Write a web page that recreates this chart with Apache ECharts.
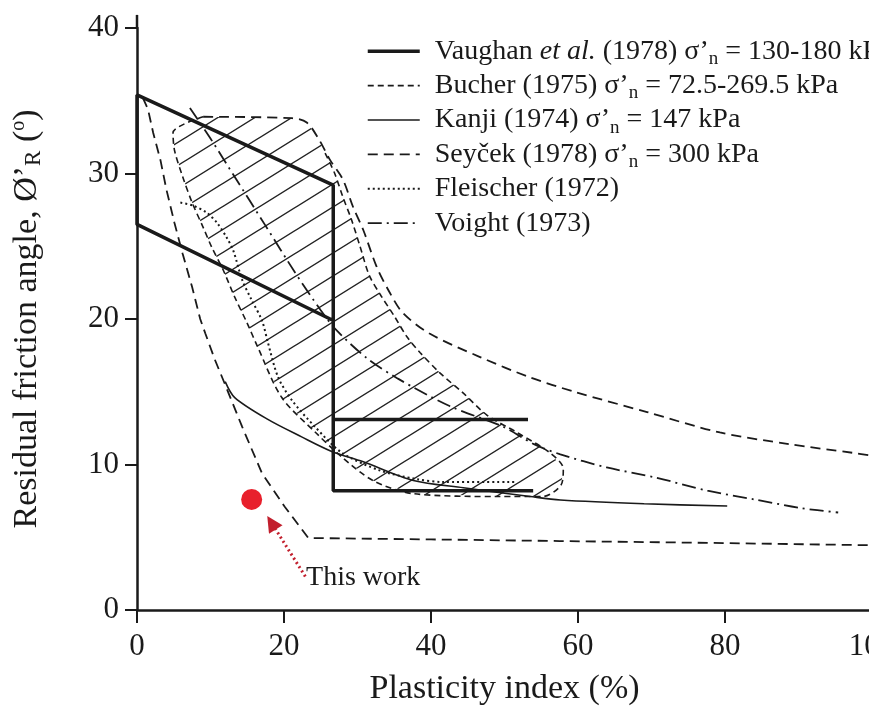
<!DOCTYPE html>
<html lang="en">
<head>
  <meta charset="UTF-8">
  <title>Residual friction angle vs plasticity index</title>
  <script src="https://cdn.jsdelivr.net/npm/echarts@6/dist/echarts.min.js"></script>
  <style>
    html, body { margin: 0; padding: 0; background: #fff; }
    #chart { width: 869px; height: 707px; }
  </style>
</head>
<body>
  <div id="chart"></div>

  <script>
    // values: [plasticity index (%), residual angle (deg)]
    const vaughan = [[53.9, 8.2], [26.7, 8.2], [26.7, 29.2], [0, 35.4], [0, 26.5], [26.7, 19.9], [26.7, 13.1], [53.2, 13.1]];
    const bucherEdge = [[9.0, 33.9], [4.9, 32.8], [5.1, 31.6], [6.2, 29.8], [7.5, 28.0], [9.0, 26.3], [10.2, 24.9], [11.7, 23.4],
      [13.3, 21.5], [15.0, 19.7], [16.4, 18.1], [19.7, 14.6], [24.3, 12.2], [27.9, 10.5], [32.1, 8.9], [37.5, 8.0], [49.3, 7.8],
      [55.2, 7.8], [57.7, 8.6], [58.0, 9.7], [56.2, 10.8], [51.7, 12.2], [47.6, 13.4], [44.4, 14.9], [41.2, 16.3], [38.5, 17.7],
      [36.7, 18.8], [35.0, 20.2], [33.2, 21.6], [31.6, 23.0], [30.4, 24.9], [29.2, 26.8], [28.0, 28.4], [26.9, 30.0], [25.5, 31.5]];
    const bucherTop = [[24.8, 32.3], [23.1, 33.5], [21.1, 33.8]];
    const kanji = [[12.0, 15.7], [13.3, 14.6], [17.8, 13.1], [22.4, 11.9], [26.5, 10.9], [30.7, 10.2], [37.6, 8.9], [44.4, 8.4],
      [53.5, 7.8], [57.6, 7.56], [69.0, 7.3], [80.3, 7.15]];
    const seycekUpper = [[9.0, 33.9], [21.1, 33.8], [23.1, 33.5], [24.8, 32.3], [26.3, 30.9], [28.0, 29.6], [29.4, 27.7], [30.8, 26.1],
      [32.6, 23.6], [34.4, 21.8], [36.2, 20.4], [39.8, 19.0], [46.6, 17.4], [53.4, 16.0], [59.5, 15.0], [69.4, 13.6], [79.3, 12.2],
      [88.7, 11.4], [97.4, 10.8], [100, 10.6]];
    const seycekLower = [[0.8, 35.2], [1.5, 34.4], [2.2, 32.8], [3.2, 30.9], [4.0, 28.9], [5.1, 26.6], [6.2, 24.5], [7.5, 22.2],
      [8.6, 20.0], [9.3, 19.0], [10.6, 17.2], [11.9, 15.6], [14.3, 12.6], [17.0, 9.4], [20.1, 7.1], [23.3, 4.95], [40, 4.85],
      [57.5, 4.74], [80, 4.6], [100, 4.45]];
    const fleischer = [[5.9, 28.0], [7.6, 27.8], [9.5, 27.3], [10.9, 26.6], [12.2, 25.6], [13.1, 24.7], [14.3, 22.7], [15.6, 21.3],
      [17.0, 19.9], [17.8, 18.4], [19.2, 16.0], [21.1, 14.4], [24.2, 12.6], [27.9, 10.8], [33.0, 9.6], [38.0, 9.0], [41.6, 8.8], [51.7, 8.8]];
    const voight = [[7.2, 34.5], [10.0, 32.4], [13.5, 29.6], [17.5, 26.4], [21.5, 23.2], [25.0, 20.6], [27.2, 19.2], [31.3, 17.3],
      [35.5, 15.9], [42.6, 14.0], [49.8, 12.6], [54.0, 11.4], [57.6, 10.7], [63.9, 9.8], [70.6, 9.1], [77.6, 8.2], [84.0, 7.6],
      [90.4, 7.0], [95.4, 6.7]];
    const thisWork = [[15.6, 7.6]];
    const arrowPath = [[22.9, 2.3], [18.3, 6.0]];
    const thisWorkText = [[23.0, 2.2]];
    const axisTop = [[0, 40], [0, 40.9]];

    const names = ['Vaughan', 'Bucher', 'Kanji', 'Seycek', 'Fleischer', 'Voight'];
    const legendText = [
      '{t|Vaughan }{i|et al.}{t| (1978) σ’}{s|n}{t| = 130-180 kPa}',
      '{t|Bucher (1975) σ’}{s|n}{t| = 72.5-269.5 kPa}',
      '{t|Kanji (1974) σ’}{s|n}{t| = 147 kPa}',
      '{t|Seyček (1978) σ’}{s|n}{t| = 300 kPa}',
      '{t|Fleischer (1972)}',
      '{t|Voight (1973)}'
    ];
    const xTitle = 'Plasticity index (%)';
    const yTitle = '{t|Residual friction angle, Ø’}{s|R}{t| (}{o|o}{t|)}';

    const FONT = '"Liberation Serif", "DejaVu Serif", serif';
    const INK = '#1a1a1a';

    // diagonal hatching tile for the Bucher band
    function hatchTile() {
      const w = 37, h = 23;
      const c = document.createElement('canvas');
      c.width = w; c.height = h;
      const g = c.getContext('2d');
      g.strokeStyle = '#222';
      g.lineWidth = 1.4;
      g.beginPath();
      for (let k = -1; k <= 1; k++) {
        g.moveTo(-2, h + k * h + 2 * h / w);
        g.lineTo(w + 2, k * h - 2 * h / w);
      }
      g.stroke();
      return c;
    }
    const hatch = { image: hatchTile(), repeat: 'repeat' };

    const styles = {
      Vaughan: { width: 3.5, type: 'solid' },
      Bucher: { width: 1.6, type: [6, 4] },
      Kanji: { width: 1.6, type: 'solid' },
      Seycek: { width: 1.8, type: [10, 6] },
      Fleischer: { width: 2, type: [2, 3] },
      Voight: { width: 1.8, type: [14, 5, 2, 5] }
    };

    function curve(name, data, smooth) {
      return {
        name: name, type: 'line', data: data, smooth: smooth, symbol: 'none',
        itemStyle: { color: INK },
        lineStyle: Object.assign({ color: INK }, styles[name]), silent: true, z: 3
      };
    }

    const chart = echarts.init(document.getElementById('chart'));

    chart.setOption({
      animation: false,
      backgroundColor: '#fff',
      grid: { left: 137, right: -3, top: 28, bottom: 97, outerBoundsMode: 'none', containLabel: false },
      xAxis: {
        type: 'value', min: 0, max: 100, interval: 20,
        name: xTitle, nameLocation: 'middle', nameGap: 62,
        nameTextStyle: { fontFamily: FONT, fontSize: 34, color: INK },
        axisLine: { onZero: false, lineStyle: { color: INK, width: 2.5 } },
        axisTick: { length: 13, lineStyle: { color: INK, width: 2 } },
        axisLabel: { margin: 21, fontFamily: FONT, fontSize: 31, color: INK },
        splitLine: { show: false }
      },
      yAxis: {
        type: 'value', min: 0, max: 40, interval: 10,
        name: yTitle, nameLocation: 'middle', nameGap: 92,
        nameTextStyle: {
          fontFamily: FONT, fontSize: 34, color: INK,
          rich: {
            t: { fontFamily: FONT, fontSize: 34, color: INK, lineHeight: 36 },
            s: { fontFamily: FONT, fontSize: 23, color: INK, lineHeight: 10, verticalAlign: 'bottom' },
            o: { fontFamily: FONT, fontSize: 20, color: INK, lineHeight: 10, verticalAlign: 'top' }
          }
        },
        axisLine: { onZero: false, lineStyle: { color: INK, width: 2.5 } },
        axisTick: { length: 12, lineStyle: { color: INK, width: 2 } },
        axisLabel: { margin: 18, fontFamily: FONT, fontSize: 31, color: INK },
        splitLine: { show: false }
      },
      legend: {
        data: names.map(function (n) {
          return { name: n, lineStyle: Object.assign({ color: INK }, styles[n]) };
        }),
        orient: 'vertical',
        left: 361, top: 29,
        itemWidth: 52, itemHeight: 14, itemGap: 0,
        selectedMode: false,
        itemStyle: { opacity: 0 },
        formatter: function (name) { return legendText[names.indexOf(name)]; },
        textStyle: {
          fontFamily: FONT, fontSize: 28, color: INK, lineHeight: 34.4, padding: [0, 0, 0, 10],
          rich: {
            t: { fontFamily: FONT, fontSize: 28, color: INK, lineHeight: 34.4 },
            i: { fontFamily: FONT, fontSize: 28, color: INK, lineHeight: 34.4, fontStyle: 'italic' },
            s: { fontFamily: FONT, fontSize: 19, color: INK, lineHeight: 8, verticalAlign: 'bottom' }
          }
        }
      },
      series: [
        {
          type: 'custom', silent: true, z: 1,
          data: bucherEdge.concat(bucherTop),
          renderItem: function (params, api) {
            if (params.dataIndex !== 0) return null;
            const pts = bucherEdge.concat(bucherTop).map(function (p) { return api.coord(p); });
            return { type: 'polygon', shape: { points: pts }, style: { fill: hatch, stroke: null } };
          }
        },
        curve('Vaughan', vaughan, false),
        curve('Bucher', bucherEdge, 0.3),
        curve('Kanji', kanji, 0.3),
        curve('Seycek', seycekUpper, 0.3),
        curve('Seycek', seycekLower, false),
        curve('Fleischer', fleischer, 0.3),
        curve('Voight', voight, 0.3),
        {
          type: 'line', data: axisTop, symbol: 'none', clip: false, silent: true,
          lineStyle: { color: INK, width: 2.5 }
        },
        {
          type: 'lines', coordinateSystem: 'cartesian2d', silent: true, z: 5,
          data: [{ coords: arrowPath }],
          symbol: ['none', 'triangle'], symbolSize: [0, 16],
          lineStyle: { color: '#c21f2d', width: 3, type: [2, 3], opacity: 1 }
        },
        {
          type: 'scatter', data: thisWork, symbolSize: 21, silent: true, z: 6,
          itemStyle: { color: '#e8202c', opacity: 1 }
        },
        {
          type: 'scatter', data: thisWorkText, symbolSize: 0, silent: true, z: 6,
          itemStyle: { opacity: 1 },
          label: {
            show: true, position: 'right', distance: 0, formatter: 'This work',
            fontFamily: FONT, fontSize: 28, color: INK, opacity: 1
          }
        }
      ]
    });
  </script>
</body>
</html>
